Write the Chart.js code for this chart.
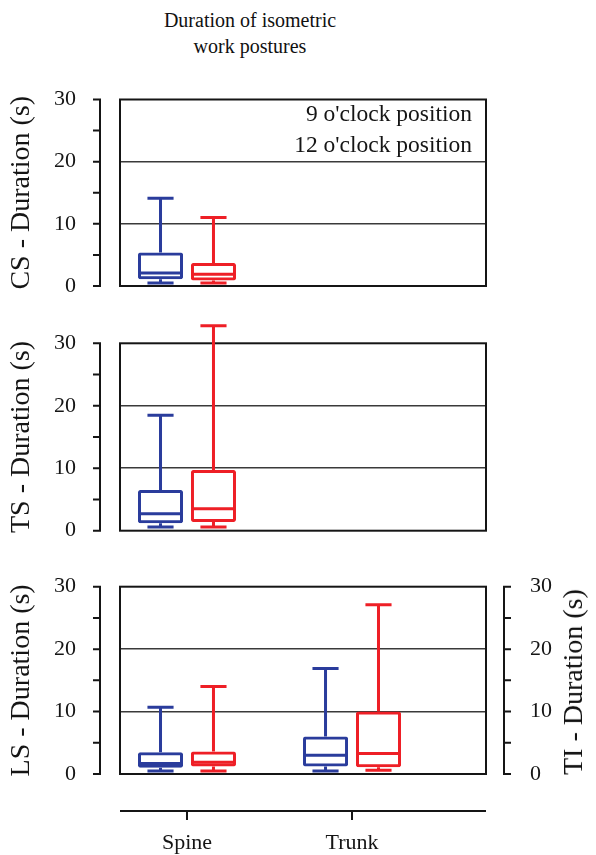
<!DOCTYPE html>
<html><head><meta charset="utf-8">
<script src="https://cdn.jsdelivr.net/npm/chart.js@4.4.1/dist/chart.umd.min.js"></script>
<style>
body{margin:0;background:#fff;}
#wrap{position:relative;width:596px;height:855px;overflow:hidden;font-family:'Liberation Serif',serif;color:#111;}
canvas{position:absolute;left:0;}
#title{position:absolute;left:140px;width:220px;top:7px;text-align:center;font-size:20px;line-height:26px;}
#tiTitle{position:absolute;left:573px;top:682px;transform:translate(-50%,-50%) rotate(-90deg);white-space:nowrap;font-size:28px;line-height:32px;}
</style></head><body>
<div id="wrap">
<div id="title">Duration of isometric<br>work postures</div>
<canvas id="c1" width="596" height="240" style="top:60px"></canvas>
<canvas id="c2" width="596" height="245" style="top:300px"></canvas>
<canvas id="c3" width="596" height="310" style="top:545px"></canvas>
<div id="tiTitle">TI - Duration (s)</div>
</div>
<script>
// ---- data ----
const categories = ['Spine', 'Trunk'];
const seriesLabels = ["9 o'clock position", "12 o'clock position"];
const yTickLabels = [0, 10, 20, 30];
// box stats per category: [min, Q1, median, Q3, max]; null = not shown
const cs9  = [[0.5, 1.1, 2.1, 5.4, 14.1], null];
const cs12 = [[0.5, 0.9, 1.9, 3.7, 11.0], null];
const ts9  = [[0.6, 1.2, 2.7, 6.5, 18.5], null];
const ts12 = [[0.6, 1.4, 3.5, 9.7, 32.8], null];
const lsti9  = [[0.5, 1.0, 1.7, 3.5, 10.7], [0.5, 1.2, 3.0, 6.0, 16.9]];
const lsti12 = [[0.5, 1.2, 1.9, 3.6, 14.0], [0.6, 1.1, 3.3, 10.0, 27.1]];

const BLUE = '#2a3c9c';
const RED = '#ee1f26';
const INK = '#151515';
const NONE = 'rgba(0,0,0,0)';
Chart.defaults.font.family = "'Liberation Serif', 'Times New Roman', serif";
Chart.defaults.color = INK;

function toBars(stats) {
  return categories.map((c, i) => ({ x: i + 1, y: stats[i] ? [stats[i][1], stats[i][3]] : null }));
}

const boxPlugin = {
  id: 'boxWhiskers',
  beforeDatasetsDraw(chart, args, opts) {
    const { ctx, chartArea: a, scales } = chart;
    const y = scales.y;
    ctx.save();
    ctx.strokeStyle = INK;
    ctx.lineWidth = 2;
    ctx.strokeRect(a.left, a.top, a.right - a.left, a.bottom - a.top);
    const drawAxis = (ax, dir) => {
      ctx.beginPath();
      ctx.moveTo(ax, y.getPixelForValue(y.min) + 1);
      ctx.lineTo(ax, y.getPixelForValue(y.max) - 1);
      y.ticks.forEach(t => {
        const py = y.getPixelForValue(t.value);
        ctx.moveTo(ax, py);
        ctx.lineTo(ax + dir * 7, py);
      });
      ctx.stroke();
    };
    drawAxis(a.left - 20, -1);
    if (opts.rightAxis) drawAxis(a.right + 18, 1);
    if (opts.xLine) {
      const x = scales.x;
      const ly = a.bottom + 37;
      ctx.beginPath();
      ctx.moveTo(a.left, ly);
      ctx.lineTo(a.right, ly);
      categories.forEach((c, i) => {
        const px = x.getPixelForValue(i + 1);
        ctx.moveTo(px, ly);
        ctx.lineTo(px, ly + 9);
      });
      ctx.stroke();
    }
    ctx.restore();
  },
  afterDatasetsDraw(chart, args, opts) {
    const { ctx, chartArea: a, scales } = chart;
    const y = scales.y;
    ctx.save();
    chart.data.datasets.forEach((ds, d) => {
      const meta = chart.getDatasetMeta(d);
      ds.stats.forEach((s, i) => {
        if (!s) return;
        const bar = meta.data[i];
        const x = bar.x, w = bar.width;
        const [mn, q1, md, q3, mx] = s.map(v => y.getPixelForValue(v));
        const cw = w * 0.58;
        ctx.strokeStyle = ds.borderColor;
        ctx.lineWidth = 3;
        ctx.beginPath();
        ctx.moveTo(x, q3); ctx.lineTo(x, mx);
        ctx.moveTo(x, q1); ctx.lineTo(x, mn);
        ctx.moveTo(x - cw / 2, mx); ctx.lineTo(x + cw / 2, mx);
        ctx.moveTo(x - cw / 2, mn); ctx.lineTo(x + cw / 2, mn);
        ctx.moveTo(x - w / 2 + 2, md); ctx.lineTo(x + w / 2 - 2, md);
        ctx.stroke();
      });
    });
    if (opts.legend) {
      ctx.font = "23.5px 'Liberation Serif'";
      ctx.fillStyle = INK;
      ctx.textAlign = 'right';
      ctx.textBaseline = 'middle';
      chart.data.datasets.forEach((ds, d) => {
        ctx.fillText(ds.label, a.right - 14, a.top + 15 + d * 31);
      });
    }
    ctx.restore();
  }
};

function valueTicks() {
  return { stepSize: 5, padding: 0, font: { size: 22 }, color: INK,
           callback: v => (yTickLabels.includes(v) ? String(v) : '') };
}

function yAxis(title) {
  return {
    type: 'linear', position: 'left', min: 0, max: 30,
    ticks: valueTicks(),
    grid: { drawTicks: true, tickLength: 44, tickColor: NONE, lineWidth: 1.5,
            color: c => (c.tick && c.tick.value % 10 === 0 && c.tick.value > 0 && c.tick.value < 30) ? '#3a3a3a' : NONE },
    border: { display: false },
    title: { display: true, text: title, font: { size: 28 }, color: INK, padding: { top: 5, bottom: 0 } },
    afterFit: s => { s.width = 120; }
  };
}

function makePanel(id, yTitle, blueStats, redStats, cfg) {
  const scales = {
    x: {
      type: 'linear', min: 0.594, max: 2.812, offset: false, display: !!cfg.showX,
      afterBuildTicks: s => { s.ticks = categories.map((c, i) => ({ value: i + 1 })); },
      ticks: { callback: (v, i) => categories[i], font: { size: 22 }, padding: 4, maxRotation: 0, autoSkip: false, color: INK },
      grid: { display: true, drawOnChartArea: false, drawTicks: true, tickLength: 52, tickColor: NONE, color: NONE, offset: false },
      border: { display: false }
    },
    y: yAxis(yTitle)
  };
  if (cfg.showX) scales.x.afterFit = s => { s.height = 81; };
  if (cfg.rightAxis) {
    scales.y2 = {
      type: 'linear', position: 'right', min: 0, max: 30,
      ticks: valueTicks(),
      grid: { drawOnChartArea: false, drawTicks: true, tickLength: 44, tickColor: NONE, color: NONE },
      border: { display: false },
      afterFit: s => { s.width = 110; }
    };
  }
  return new Chart(document.getElementById(id), {
    type: 'bar',
    data: {
      datasets: [
        { label: seriesLabels[0], data: toBars(blueStats), stats: blueStats, borderColor: BLUE },
        { label: seriesLabels[1], data: toBars(redStats), stats: redStats, borderColor: RED }
      ]
    },
    options: {
      responsive: false, animation: false,
      datasets: { bar: { backgroundColor: NONE, borderWidth: 3, borderSkipped: false, borderRadius: 2,
                         categoryPercentage: 0.642, barPercentage: 0.85 } },
      layout: { padding: cfg.padding },
      scales,
      plugins: {
        legend: { display: false }, tooltip: { enabled: false }, title: { display: false },
        boxWhiskers: { legend: !!cfg.legend, rightAxis: !!cfg.rightAxis, xLine: !!cfg.showX }
      }
    },
    plugins: [boxPlugin]
  });
}

makePanel('c1', 'CS - Duration (s)', cs9, cs12, { legend: true, padding: { top: 39.5, bottom: 14, left: 0, right: 110 } });
makePanel('c2', 'TS - Duration (s)', ts9, ts12, { padding: { top: 43.3, bottom: 14.3, left: 0, right: 110 } });
makePanel('c3', 'LS - Duration (s)', lsti9, lsti12, { showX: true, rightAxis: true, padding: { top: 41.7, bottom: 0, left: 0, right: 0 } });
</script>
</body></html>
